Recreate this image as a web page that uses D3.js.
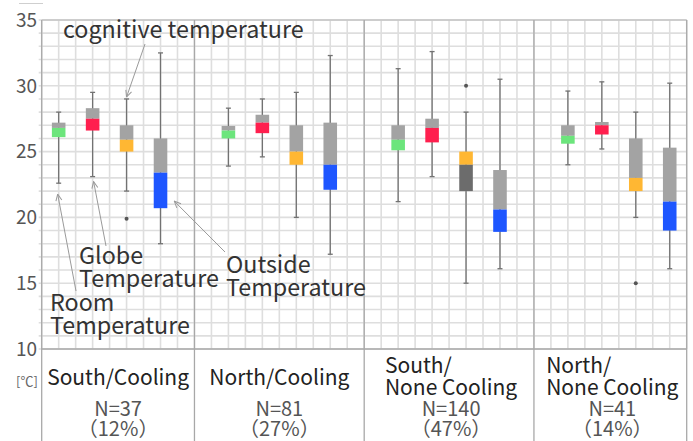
<!DOCTYPE html>
<html>
<head>
<meta charset="utf-8">
<script src="https://cdn.jsdelivr.net/npm/d3@7"></script>
<style>
  body { margin: 0; background: #fff; }
  text { font-family: "Noto Sans CJK JP", "Noto Sans", sans-serif; }
</style>
</head>
<body>
<svg id="chart" width="693" height="441"></svg>
<script>
// Groups (house orientation / cooling use) and their sample sizes
const groupLines = [["South/Cooling"], ["North/Cooling"], ["South/", "None Cooling"], ["North/", "None Cooling"]];
const sampleN = [37, 81, 140, 41];
const sharePct = [12, 27, 47, 14];

// Measures drawn in each group, left to right
const measures = ["room", "globe", "cognitive", "outside"];

// Box statistics per group: [whisker low, Q1, median, Q3, whisker high] in °C
const roomTemp = [
  [22.6, 26.1, 26.8, 27.2, 28.0],
  [23.9, 26.0, 26.6, 26.95, 28.3],
  [21.2, 25.1, 25.9, 27.0, 31.3],
  [24.0, 25.6, 26.2, 27.0, 29.6]
];
const globeTemp = [
  [23.1, 26.6, 27.5, 28.3, 29.5],
  [24.6, 26.4, 27.2, 27.8, 29.0],
  [23.1, 25.7, 26.8, 27.5, 32.6],
  [25.2, 26.3, 27.0, 27.25, 30.3]
];
const cognitiveTemp = [
  [22.0, 25.0, 25.9, 27.0, 29.0],
  [20.0, 24.0, 25.0, 27.0, 29.5],
  [15.0, 22.0, 24.0, 25.0, 28.0],
  [20.0, 22.0, 23.0, 26.0, 28.0]
];
const outsideTemp = [
  [18.0, 20.7, 23.4, 26.0, 32.5],
  [17.2, 22.1, 24.0, 27.2, 32.3],
  [16.1, 18.9, 20.6, 23.6, 30.5],
  [16.1, 19.0, 21.2, 25.3, 30.2]
];
// Outlying points: [group index, measure index, value]
const outliers = [
  [0, 2, 19.9],
  [2, 2, 30.0],
  [3, 2, 15.0]
];
// Boxes whose lower half is shaded dark and upper half carries the colour
const invertedBoxes = [[2, 2]];

const yTicks = [10, 15, 20, 25, 30, 35];

const seriesStats = [roomTemp, globeTemp, cognitiveTemp, outsideTemp];
const measureColor = { room: "#6ce57c", globe: "#ff1f4e", cognitive: "#ffb733", outside: "#1e56ff" };
const upperGray = "#a3a3a3";
const darkGray = "#6c6c6c";

// Layout: grid columns per group panel, and the column of the first box
const panelCols = [9, 10, 10, 9];
const firstBoxCol = [1, 2, 2, 2];
const totalCols = d3.sum(panelCols);
const panelStart = panelCols.map((c, i) => d3.sum(panelCols.slice(0, i)));

const svg = d3.select("#chart");
const x = d3.scaleLinear().domain([0, totalCols]).range([41.7, 686.7]);
const y = d3.scaleLinear().domain([10, 35]).range([349, 20]);
const colW = x(1) - x(0);
const boxW = colW * 0.8;

// Grid
const grid = svg.append("g");
grid.selectAll("line.h").data(d3.range(10, 36)).join("line")
  .attr("x1", x(0) - 3).attr("x2", x(totalCols))
  .attr("y1", d => y(d)).attr("y2", d => y(d))
  .attr("stroke", "#dedede").attr("stroke-width", 1.6);
grid.selectAll("line.v").data(d3.range(0, totalCols + 1)).join("line")
  .attr("x1", d => x(d)).attr("x2", d => x(d))
  .attr("y1", y(35)).attr("y2", y(10))
  .attr("stroke", "#dedede").attr("stroke-width", 1.6);

// Frame: top edge, baseline, panel separators running through the label area
svg.append("line").attr("x1", x(0)).attr("x2", x(totalCols)).attr("y1", y(35)).attr("y2", y(35))
  .attr("stroke", "#c4c4c4").attr("stroke-width", 1.4);
svg.append("line").attr("x1", x(0)).attr("x2", x(totalCols)).attr("y1", y(10)).attr("y2", y(10))
  .attr("stroke", "#a8a8a8").attr("stroke-width", 1.4);
svg.selectAll("line.sep").data([0, ...panelStart.slice(1), totalCols]).join("line")
  .attr("x1", d => x(d)).attr("x2", d => x(d))
  .attr("y1", y(35)).attr("y2", 441)
  .attr("stroke", "#a8a8a8").attr("stroke-width", 1.3);
svg.append("line").attr("x1", 19).attr("x2", 43).attr("y1", 3.5).attr("y2", 3.5)
  .attr("stroke", "#cfcfcf").attr("stroke-width", 1);

// Y axis labels
svg.selectAll("text.ytick").data(yTicks).join("text")
  .attr("x", 37).attr("y", d => y(d)).attr("dy", "0.36em")
  .attr("text-anchor", "end").attr("font-size", 19).attr("fill", "#555")
  .text(d => d);
svg.append("text").attr("x", 27).attr("y", 386).attr("text-anchor", "middle")
  .attr("font-size", 13).attr("fill", "#666").text("[℃]");

// Leader-line arrowhead
svg.append("defs").append("marker")
  .attr("id", "hook").attr("viewBox", "0 0 8 8").attr("refX", 7.5).attr("refY", 4)
  .attr("markerWidth", 8).attr("markerHeight", 8).attr("markerUnits", "userSpaceOnUse")
  .attr("orient", "auto")
  .append("path").attr("d", "M1,1 L7.5,4 L1,7").attr("fill", "none")
  .attr("stroke", "#999").attr("stroke-width", 1);

// Box plots
const boxes = [];
seriesStats.forEach((stats, m) => {
  stats.forEach((s, g) => {
    const inv = invertedBoxes.some(([gi, mi]) => gi === g && mi === m);
    boxes.push({ g, m, key: measures[m], stats: s, inv,
      col: panelStart[g] + firstBoxCol[g] + 2 * m });
  });
});

const bx = svg.append("g");
const items = bx.selectAll("g.box").data(boxes).join("g");
items.append("line")
  .attr("x1", d => x(d.col)).attr("x2", d => x(d.col))
  .attr("y1", d => y(d.stats[4])).attr("y2", d => y(d.stats[0]))
  .attr("stroke", "#727272").attr("stroke-width", 1.3);
items.selectAll("line.cap").data(d => [d, d].map((b, i) => ({ b, v: b.stats[i === 0 ? 0 : 4] }))).join("line")
  .attr("x1", d => x(d.b.col) - 2.5).attr("x2", d => x(d.b.col) + 2.5)
  .attr("y1", d => y(d.v)).attr("y2", d => y(d.v))
  .attr("stroke", "#727272").attr("stroke-width", 1.3);
// upper half: median to Q3
items.append("rect")
  .attr("x", d => x(d.col) - boxW / 2).attr("width", boxW)
  .attr("y", d => y(d.stats[3])).attr("height", d => y(d.stats[2]) - y(d.stats[3]))
  .attr("fill", d => d.inv ? measureColor[d.key] : upperGray);
// lower half: Q1 to median
items.append("rect")
  .attr("x", d => x(d.col) - boxW / 2).attr("width", boxW)
  .attr("y", d => y(d.stats[2])).attr("height", d => y(d.stats[1]) - y(d.stats[2]))
  .attr("fill", d => d.inv ? darkGray : measureColor[d.key]);

svg.selectAll("circle.out").data(outliers).join("circle")
  .attr("cx", d => x(panelStart[d[0]] + firstBoxCol[d[0]] + 2 * d[1]))
  .attr("cy", d => y(d[2])).attr("r", 2).attr("fill", "#555");

// Group labels
const labels = svg.append("g");
groupLines.forEach((lines, g) => {
  const cx = (x(panelStart[g]) + x(panelStart[g] + panelCols[g])) / 2 + (lines.length > 1 ? 2 : 0);
  const t = labels.append("text").attr("font-size", 21).attr("fill", "#222");
  if (lines.length === 1) {
    t.attr("x", cx).attr("y", 385).attr("text-anchor", "middle").text(lines[0]);
  } else {
    lines.forEach((ln, i) => t.append("tspan").attr("y", 373 + i * 22).text(ln));
    const w = d3.max(t.selectAll("tspan").nodes(), n => n.getComputedTextLength());
    t.selectAll("tspan").attr("x", cx - w / 2);
  }
  labels.append("text").attr("x", cx).attr("y", 416).attr("text-anchor", "middle")
    .attr("font-size", 20).attr("fill", "#555").text("N=" + sampleN[g]);
  labels.append("text").attr("x", cx).attr("y", 436).attr("text-anchor", "middle")
    .attr("font-size", 20).attr("fill", "#555").text("（" + sharePct[g] + "%）");
});

// Annotations naming each measure
const ann = svg.append("g").attr("font-size", 23.3).attr("fill", "#333");
function note(lines, x0, y0) {
  const t = ann.append("text");
  lines.forEach((ln, i) => t.append("tspan").attr("x", x0).attr("y", y0 + i * 23).text(ln));
}
note(["cognitive temperature"], 63, 38);
note(["Globe", "Temperature"], 79, 264);
note(["Room", "Temperature"], 50, 311);
note(["Outside", "Temperature"], 226, 273);

const colOf = (g, m) => x(panelStart[g] + firstBoxCol[g] + 2 * m);
const leaders = [
  [145, 44, colOf(0, 2), y(cognitiveTemp[0][4]) - 2],
  [106, 246, colOf(0, 1) + 1, y(globeTemp[0][0]) + 5],
  [76, 291, colOf(0, 0) - 1, y(roomTemp[0][0]) + 11],
  [225, 252, colOf(0, 3) + boxW / 2 + 7, y(outsideTemp[0][1]) - 7]
];
svg.selectAll("line.lead").data(leaders).join("line")
  .attr("x1", d => d[0]).attr("y1", d => d[1]).attr("x2", d => d[2]).attr("y2", d => d[3])
  .attr("stroke", "#9a9a9a").attr("stroke-width", 1).attr("marker-end", "url(#hook)");
</script>
</body>
</html>
